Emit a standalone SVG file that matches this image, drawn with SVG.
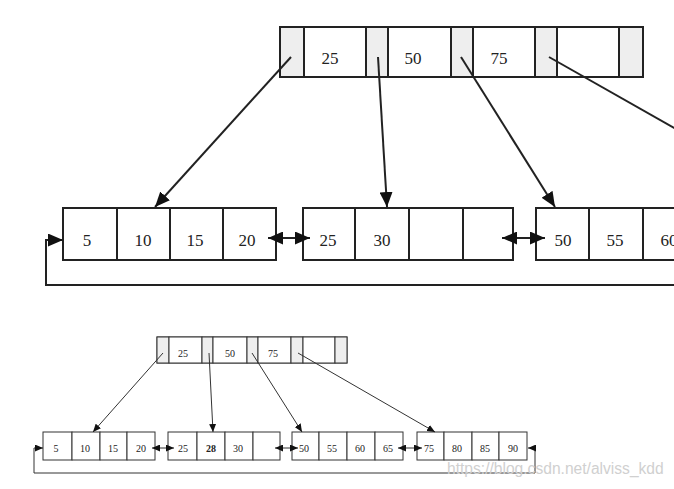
<svg xmlns="http://www.w3.org/2000/svg" width="674" height="489" viewBox="0 0 674 489">
<style>
.bg{fill:#fff}
.big rect{fill:#fff;stroke:#222;stroke-width:2}
.big rect.p{fill:#eeeeee}
.small rect{fill:#fff;stroke:#333;stroke-width:1}
.small rect.p{fill:#eeeeee}
.bt{font-family:"Liberation Serif","Times New Roman",serif;font-size:17px;fill:#222;text-anchor:middle}
.st{font-family:"Liberation Serif","Times New Roman",serif;font-size:10px;fill:#222;text-anchor:middle}
.cb{fill:none;stroke:#222;stroke-width:2}
.cs{fill:none;stroke:#333;stroke-width:1}
.wm{font-family:"Liberation Sans",Arial,sans-serif;font-size:15.6px;fill:#d0d0d0}
</style>
<defs>
<marker id="ab" markerUnits="userSpaceOnUse" markerWidth="15" markerHeight="13" refX="15" refY="6.5" orient="auto-start-reverse">
<path d="M0,0 L15,6.5 L0,13 z" fill="#111"/>
</marker>
<marker id="as" markerUnits="userSpaceOnUse" markerWidth="8" markerHeight="7" refX="8" refY="3.5" orient="auto-start-reverse">
<path d="M0,0 L8,3.5 L0,7 z" fill="#111"/>
</marker>
</defs>
<rect class="bg" x="0" y="0" width="674" height="489"/>

<!-- Large diagram -->
<g id="big-root" class="big">
<rect x="280" y="27" width="363" height="50"/>
<rect class="p" x="280" y="27" width="24" height="50"/>
<rect x="304" y="27" width="62" height="50"/>
<rect class="p" x="366" y="27" width="22" height="50"/>
<rect x="388" y="27" width="63" height="50"/>
<rect class="p" x="451" y="27" width="22" height="50"/>
<rect x="473" y="27" width="62" height="50"/>
<rect class="p" x="535" y="27" width="22" height="50"/>
<rect x="557" y="27" width="62" height="50"/>
<rect class="p" x="619" y="27" width="24" height="50"/>
<text class="bt" x="330" y="64">25</text>
<text class="bt" x="413" y="64">50</text>
<text class="bt" x="499" y="64">75</text>
</g>

<g id="big-leaf1" class="big">
<rect x="63" y="208" width="54" height="52"/>
<rect x="117" y="208" width="53" height="52"/>
<rect x="170" y="208" width="53" height="52"/>
<rect x="223" y="208" width="53" height="52"/>
<text class="bt" x="87" y="246">5</text>
<text class="bt" x="143" y="246">10</text>
<text class="bt" x="195" y="246">15</text>
<text class="bt" x="247" y="246">20</text>
</g>

<g id="big-leaf2" class="big">
<rect x="303" y="208" width="52" height="52"/>
<rect x="355" y="208" width="54" height="52"/>
<rect x="409" y="208" width="54" height="52"/>
<rect x="463" y="208" width="50" height="52"/>
<text class="bt" x="328" y="246">25</text>
<text class="bt" x="382" y="246">30</text>
</g>

<g id="big-leaf3" class="big">
<rect x="536" y="208" width="53" height="52"/>
<rect x="589" y="208" width="54" height="52"/>
<rect x="643" y="208" width="54" height="52"/>
<text class="bt" x="563" y="246">50</text>
<text class="bt" x="615" y="246">55</text>
<text class="bt" x="669" y="246">60</text>
</g>

<g id="big-connectors">
<line class="cb" x1="291" y1="57" x2="155" y2="207" marker-end="url(#ab)"/>
<line class="cb" x1="378" y1="57" x2="387" y2="207" marker-end="url(#ab)"/>
<line class="cb" x1="461" y1="57" x2="555" y2="207" marker-end="url(#ab)"/>
<line class="cb" x1="549" y1="57" x2="690" y2="137"/>
<line class="cb" x1="268" y1="238" x2="310" y2="238" marker-start="url(#ab)" marker-end="url(#ab)"/>
<line class="cb" x1="502" y1="238" x2="545" y2="238" marker-start="url(#ab)" marker-end="url(#ab)"/>
<path class="cb" d="M690,285 L46,285 L46,240 L63,240" marker-end="url(#ab)"/>
</g>

<!-- Small diagram -->
<g id="small-root" class="small">
<rect x="157" y="337" width="190" height="26"/>
<rect class="p" x="157" y="337" width="12" height="26"/>
<rect x="169" y="337" width="33" height="26"/>
<rect class="p" x="202" y="337" width="11" height="26"/>
<rect x="213" y="337" width="34" height="26"/>
<rect class="p" x="247" y="337" width="11" height="26"/>
<rect x="258" y="337" width="33" height="26"/>
<rect class="p" x="291" y="337" width="12" height="26"/>
<rect x="303" y="337" width="32" height="26"/>
<rect class="p" x="335" y="337" width="12" height="26"/>
<text class="st" x="183" y="357">25</text>
<text class="st" x="230" y="357">50</text>
<text class="st" x="273" y="357">75</text>
</g>

<g id="small-leaf1" class="small">
<rect x="43" y="432" width="29" height="28"/>
<rect x="72" y="432" width="28" height="28"/>
<rect x="100" y="432" width="27" height="28"/>
<rect x="127" y="432" width="28" height="28"/>
<text class="st" x="56" y="452">5</text>
<text class="st" x="85" y="452">10</text>
<text class="st" x="113" y="452">15</text>
<text class="st" x="141" y="452">20</text>
</g>

<g id="small-leaf2" class="small">
<rect x="168" y="432" width="29" height="28"/>
<rect x="197" y="432" width="28" height="28"/>
<rect x="225" y="432" width="28" height="28"/>
<rect x="253" y="432" width="27" height="28"/>
<text class="st" x="183" y="452">25</text>
<text class="st" x="211" y="452" font-weight="bold">28</text>
<text class="st" x="238" y="452">30</text>
</g>

<g id="small-leaf3" class="small">
<rect x="292" y="432" width="27" height="28"/>
<rect x="319" y="432" width="28" height="28"/>
<rect x="347" y="432" width="28" height="28"/>
<rect x="375" y="432" width="28" height="28"/>
<text class="st" x="304" y="452">50</text>
<text class="st" x="332" y="452">55</text>
<text class="st" x="360" y="452">60</text>
<text class="st" x="388" y="452">65</text>
</g>

<g id="small-leaf4" class="small">
<rect x="417" y="432" width="27" height="28"/>
<rect x="444" y="432" width="28" height="28"/>
<rect x="472" y="432" width="27" height="28"/>
<rect x="499" y="432" width="28" height="28"/>
<text class="st" x="429" y="452">75</text>
<text class="st" x="457" y="452">80</text>
<text class="st" x="485" y="452">85</text>
<text class="st" x="513" y="452">90</text>
</g>

<g id="small-connectors">
<line class="cs" x1="163" y1="353" x2="93" y2="432" marker-end="url(#as)"/>
<line class="cs" x1="209" y1="353" x2="213" y2="432" marker-end="url(#as)"/>
<line class="cs" x1="252" y1="353" x2="302" y2="432" marker-end="url(#as)"/>
<line class="cs" x1="298" y1="353" x2="435" y2="432" marker-end="url(#as)"/>
<line class="cs" x1="152" y1="448" x2="174" y2="448" marker-start="url(#as)" marker-end="url(#as)"/>
<line class="cs" x1="275" y1="448" x2="298" y2="448" marker-start="url(#as)" marker-end="url(#as)"/>
<line class="cs" x1="398" y1="448" x2="422" y2="448" marker-start="url(#as)" marker-end="url(#as)"/>
<path class="cs" d="M528,448 L535,448 L535,473 L34,473 L34,448 L43,448" marker-start="url(#as)" marker-end="url(#as)"/>
</g>

<text class="wm" x="447" y="474">https://blog.csdn.net/alviss_kdd</text>
</svg>
